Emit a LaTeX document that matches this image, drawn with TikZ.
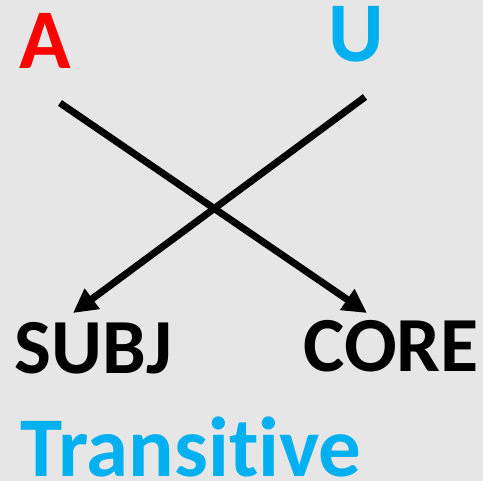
\documentclass[tikz,border=0pt]{standalone}
\usepackage{fontspec}
\setmainfont{Carlito}[Ligatures={NoCommon}]
\usetikzlibrary{arrows.meta}
\definecolor{bg}{HTML}{E7E6E6}
\definecolor{cyanblue}{HTML}{00B0F0}
\definecolor{redA}{HTML}{FF0000}
\begin{document}
\begin{tikzpicture}[x=1pt,y=-1pt,
  big/.style={font=\fontsize{85}{90}\selectfont\bfseries, anchor=base, inner sep=0pt, text height=0.66em, text depth=0pt},
  mid/.style={font=\fontsize{78}{84}\selectfont\bfseries, anchor=base, inner sep=0pt, text height=0.66em, text depth=0pt},
  conn/.style={line width=7pt, -{Triangle[length=24pt,width=24pt]}}]
\fill[bg] (0,0) rectangle (483,481);
\useasboundingbox (0,0) rectangle (483,481);
\node[big, text=redA] (A) at (45.5,69) {A};
\node[big, text=cyanblue] (U) at (356.5,62) {U};
\node[mid] (SUBJ) at (93.5,374) {SUBJ};
\node[mid] (CORE) at (391,372) {CORE};
\node[big, text=cyanblue] (T) at (191,477) {Transitive};
\coordinate (a1) at (60,103);
\coordinate (c1) at (367,313);
\coordinate (u1) at (365,97);
\coordinate (s1) at (73,313);
\draw[conn] (a1) -- (c1);
\draw[conn] (u1) -- (s1);
\end{tikzpicture}
\end{document}
